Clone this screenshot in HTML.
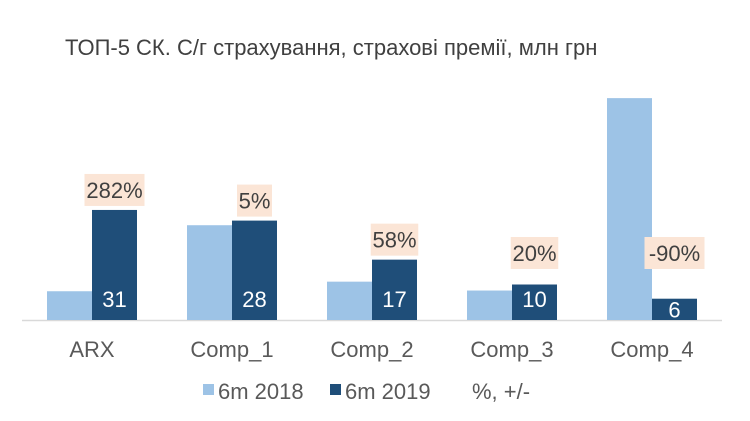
<!DOCTYPE html>
<html><head><meta charset="utf-8"><style>
body{margin:0;background:#fff;font-family:"Liberation Sans",sans-serif}
svg{display:block}
</style></head><body>
<svg width="750" height="421" viewBox="0 0 750 421">
<text x="65" y="55" font-size="22" fill="#404040">ТОП-5 СК. С/г страхування, страхові премії, млн грн</text>
<line x1="22" y1="320.5" x2="722" y2="320.5" stroke="#d9d9d9" stroke-width="1.5"/>
<g id="bars"></g>
<g>
<rect x="203" y="384" width="11" height="11" fill="#9dc3e6"/>
<text x="218" y="399" font-size="22" fill="#595959">6m 2018</text>
<rect x="330" y="384" width="11" height="11" fill="#1f4e79"/>
<text x="345" y="399" font-size="22" fill="#595959">6m 2019</text>
<text x="472" y="399" font-size="22" fill="#595959">%, +/-</text>
</g>
</svg>
<script>
const categories=["ARX","Comp_1","Comp_2","Comp_3","Comp_4"];
const values2018=[8.1,26.7,10.8,8.3,62.5];
const values2019=[31,28,17,10,6];
const pctLabels=["282%","5%","58%","20%","-90%"];
const ns="http://www.w3.org/2000/svg";
const g=document.getElementById('bars');
const base=320, scale=3.55, x0=92, step=140, bw=45;
const y=v=>base-v*scale;
function mk(t,a){const e=document.createElementNS(ns,t);for(const k in a)e.setAttribute(k,a[k]);g.appendChild(e);return e;}
categories.forEach((c,i)=>{
 const cx=x0+i*step;
 const r1=mk('rect',{x:cx-bw,y:y(values2018[i]),width:bw,height:base-y(values2018[i]),fill:'#9dc3e6'});
 
 
 const r2=mk('rect',{x:cx,y:y(values2019[i]),width:bw,height:base-y(values2019[i]),fill:'#1f4e79'});
 
 
 const vt=mk('text',{x:cx+bw/2,y:Math.max(307,y(values2019[i])+19),'font-size':22,fill:'#fff','text-anchor':'middle'});
 vt.textContent=values2019[i];
 
 
 const ct=mk('text',{x:cx,y:357,'font-size':22,fill:'#595959','text-anchor':'middle'});
 ct.textContent=c;
 
 
 const bottom=Math.min(y(values2019[i])-4,269);
 const w=pctLabels[i].length*12.5+10;
 const bx=mk('rect',{x:cx+bw/2-w/2,y:bottom-32,width:w,height:32,fill:'#fbe5d6'});
 
 
 const pt=mk('text',{x:cx+bw/2,y:bottom-8,'font-size':22,fill:'#404040','text-anchor':'middle'});
 pt.textContent=pctLabels[i];
 
 
});
</script>
</body></html>
